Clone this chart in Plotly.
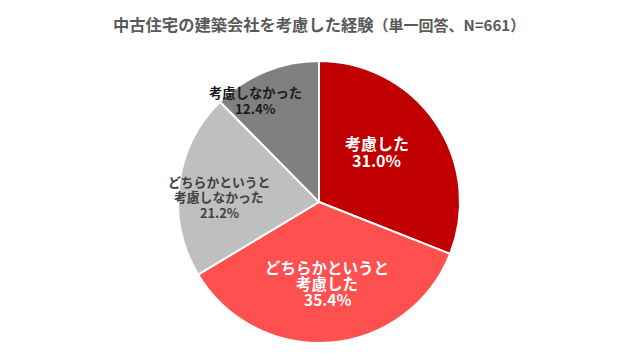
import math
import plotly.graph_objects as go

labels = ["考慮した", "どちらかというと考慮した", "どちらかというと考慮しなかった", "考慮しなかった"]
label_lines = [["考慮した", "31.0%"],
               ["どちらかというと", "考慮した", "35.4%"],
               ["どちらかというと", "考慮しなかった", "21.2%"],
               ["考慮しなかった", "12.4%"]]
values = [31.0, 35.4, 21.2, 12.4]
colors = ["#C00000", "#FF5050", "#BFBFBF", "#808080"]
text_colors = ["white", "white", "#404040", "#1a1a1a"]
text_sizes = [16, 15.5, 12.8, 13.3]
line_gap = [17, 16, 15.5, 16]
radial = [0.545, 0.577, 0.71, 0.85]
angle_nudge = [-6.9, -1.3, -4.3, -9.4]

W, H = 632, 360
ml, mr, mt, mb = 0, 10, 53, 25
cx = ml + (W - ml - mr) / 2
cy = mt + (H - mt - mb) / 2
R = (H - mt - mb) / 2

fig = go.Figure(go.Pie(
    labels=labels, values=values, sort=False, direction="clockwise", rotation=0,
    marker=dict(colors=colors, line=dict(color="white", width=2)),
    textinfo="none", hoverinfo="label+percent", showlegend=False,
))

annotations = []
total = sum(values)
cum = 0
for i, v in enumerate(values):
    mid = (cum + v / 2) / total * 360 + angle_nudge[i]
    cum += v
    a = math.radians(mid)
    px = cx + radial[i] * R * math.sin(a)
    py = cy - radial[i] * R * math.cos(a)
    n = len(label_lines[i])
    for j, line in enumerate(label_lines[i]):
        ly = py + (j - (n - 1) / 2) * line_gap[i]
        annotations.append(dict(
            x=(px - ml) / (W - ml - mr), y=(H - mb - ly) / (H - mt - mb),
            xref="paper", yref="paper", xanchor="center", yanchor="middle",
            text="<b>" + line + "</b>", showarrow=False,
            font=dict(color=text_colors[i], size=text_sizes[i], family="Noto Sans CJK JP"),
        ))

annotations.append(dict(
    x=0.5, y=1.0, xref="paper", yref="paper", xanchor="center", yanchor="bottom", yshift=23,
    text="<b>中古住宅の建築会社を考慮した経験</b><b><span style='font-size:15px'>（単一回答、N=661）</span></b>",
    showarrow=False, font=dict(size=16.3, color="#595959", family="Noto Sans CJK JP"),
))

fig.update_layout(
    width=W, height=H, margin=dict(l=ml, r=mr, t=mt, b=mb),
    paper_bgcolor="white", plot_bgcolor="white",
    font=dict(family="Noto Sans CJK JP", size=14),
    annotations=annotations,
)
fig.write_html("out.html")
